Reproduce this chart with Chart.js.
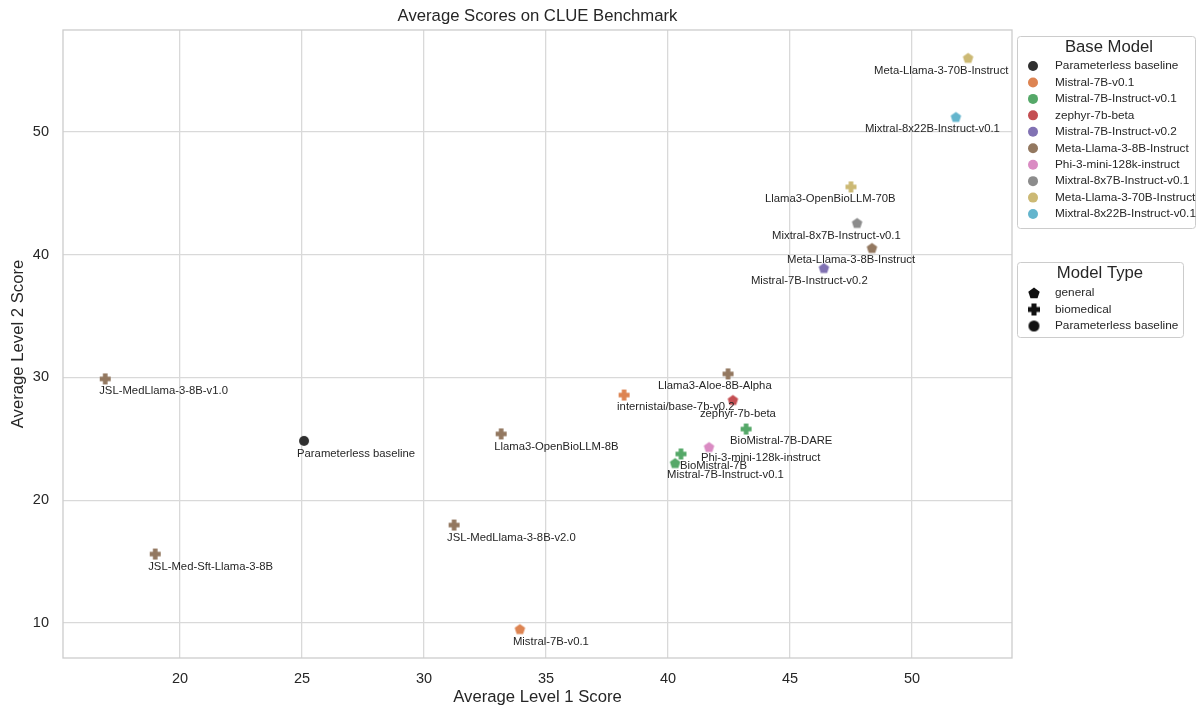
<!DOCTYPE html>
<html>
<head>
<meta charset="utf-8">
<script src="https://cdn.jsdelivr.net/npm/chart.js@4.4.1/dist/chart.umd.min.js"></script>
<style>
  html, body { margin: 0; padding: 0; background: #fff; }
  #wrap { width: 1200px; height: 709px; }
</style>
</head>
<body>
<div id="wrap"><canvas id="clue"></canvas></div>
<script>
'use strict';

// data
const modelNames = [
    'Parameterless baseline', 'Mistral-7B-v0.1', 'internistai/base-7b-v0.2', 'Mistral-7B-Instruct-v0.1',
    'BioMistral-7B', 'BioMistral-7B-DARE', 'zephyr-7b-beta', 'Mistral-7B-Instruct-v0.2',
    'Meta-Llama-3-8B-Instruct', 'Llama3-Aloe-8B-Alpha', 'Llama3-OpenBioLLM-8B', 'JSL-MedLlama-3-8B-v1.0',
    'JSL-MedLlama-3-8B-v2.0', 'JSL-Med-Sft-Llama-3-8B', 'Phi-3-mini-128k-instruct', 'Mixtral-8x7B-Instruct-v0.1',
    'Llama3-OpenBioLLM-70B', 'Meta-Llama-3-70B-Instruct', 'Mixtral-8x22B-Instruct-v0.1'
];
const level1Scores = [25.08, 33.93, 38.2, 40.29, 40.53, 43.2, 42.66, 46.39, 48.36, 42.46, 33.16, 16.93, 31.23, 18.98, 41.68, 47.75, 47.5, 52.3, 51.8];
const level2Scores = [24.83, 9.51, 28.57, 23.03, 23.77, 25.8, 28.17, 38.92, 40.55, 30.29, 25.4, 29.88, 17.98, 15.62, 24.34, 42.59, 45.52, 56.03, 51.22];
const baseModelOf = [
    'Parameterless baseline', 'Mistral-7B-v0.1', 'Mistral-7B-v0.1', 'Mistral-7B-Instruct-v0.1',
    'Mistral-7B-Instruct-v0.1', 'Mistral-7B-Instruct-v0.1', 'zephyr-7b-beta', 'Mistral-7B-Instruct-v0.2',
    'Meta-Llama-3-8B-Instruct', 'Meta-Llama-3-8B-Instruct', 'Meta-Llama-3-8B-Instruct', 'Meta-Llama-3-8B-Instruct',
    'Meta-Llama-3-8B-Instruct', 'Meta-Llama-3-8B-Instruct', 'Phi-3-mini-128k-instruct', 'Mixtral-8x7B-Instruct-v0.1',
    'Meta-Llama-3-70B-Instruct', 'Meta-Llama-3-70B-Instruct', 'Mixtral-8x22B-Instruct-v0.1'
];
const modelTypeOf = [
    'Parameterless baseline', 'general', 'biomedical', 'general',
    'biomedical', 'biomedical', 'general', 'general',
    'general', 'biomedical', 'biomedical', 'biomedical',
    'biomedical', 'biomedical', 'general', 'general',
    'biomedical', 'general', 'general'
];

const baseModels = [
    'Parameterless baseline', 'Mistral-7B-v0.1', 'Mistral-7B-Instruct-v0.1', 'zephyr-7b-beta',
    'Mistral-7B-Instruct-v0.2', 'Meta-Llama-3-8B-Instruct', 'Phi-3-mini-128k-instruct',
    'Mixtral-8x7B-Instruct-v0.1', 'Meta-Llama-3-70B-Instruct', 'Mixtral-8x22B-Instruct-v0.1'
];
const baseColors = ['#2f2f2f', '#dd8452', '#55a868', '#c44e52', '#8172b3', '#937860', '#da8bc3', '#8c8c8c', '#ccb974', '#64b5cd'];
const modelTypes = ['general', 'biomedical', 'Parameterless baseline'];

const xTicks = [20, 25, 30, 35, 40, 45, 50];
const yTicks = [10, 20, 30, 40, 50];

// label placement (px from the point: left edge of text, vertical middle), like the repelled labels
const labelNudge = [
    [-7, 13], [-7, 13], [-7, 12], [-8, 12], [-1, 12], [-16, 12], [-33, 14], [-73, 13],
    [-85, 12], [-70, 12], [-7, 13], [-6, 12], [-7, 13], [-7, 13], [-8, 11], [-85, 13],
    [-86, 12], [-94, 13], [-91, 12]
];

const FONT = '"Liberation Sans", Arial, sans-serif';
const TEXT = '#262626';

// marker images
function makeMarker(shape, color, r) {
    const size = Math.ceil(r * 2 + 2);
    const c = document.createElement('canvas');
    c.width = size; c.height = size;
    const g = c.getContext('2d');
    const cx = size / 2, cy = size / 2;
    g.fillStyle = color;
    g.beginPath();
    if (shape === 'general') {
        for (let i = 0; i < 5; i++) {
            const a = -Math.PI / 2 + i * 2 * Math.PI / 5;
            const px = cx + r * Math.cos(a), py = cy + 0.5 + r * Math.sin(a);
            if (i === 0) g.moveTo(px, py); else g.lineTo(px, py);
        }
        g.closePath();
    } else if (shape === 'biomedical') {
        const w = r * 0.42;
        g.rect(cx - r, cy - w, 2 * r, 2 * w);
        g.rect(cx - w, cy - r, 2 * w, 2 * r);
    } else {
        g.arc(cx, cy, r, 0, Math.PI * 2);
    }
    g.fill();
    return c;
}

const datasets = baseModels.map((bm, k) => {
    const idx = modelNames.map((_, i) => i).filter(i => baseModelOf[i] === bm);
    return {
        label: bm,
        data: idx.map(i => ({ x: level1Scores[i], y: level2Scores[i], name: modelNames[i], nudge: labelNudge[i] })),
        pointStyle: idx.map(i => makeMarker(modelTypeOf[i], baseColors[k], modelTypeOf[i] === 'Parameterless baseline' ? 5 : 5.5)),
        backgroundColor: baseColors[k],
        borderColor: baseColors[k],
        pointRadius: 6
    };
});

const frameAndLabels = {
    id: 'frameAndLabels',
    beforeDraw(chart) {
        const g = chart.ctx;
        g.save();
        g.fillStyle = '#fff';
        g.fillRect(0, 0, chart.width, chart.height);
        g.restore();
    },
    afterDatasetsDraw(chart) {
        const g = chart.ctx;
        const a = chart.chartArea;
        g.save();
        g.strokeStyle = '#cccccc';
        g.lineWidth = 1.3;
        g.strokeRect(a.left, a.top, a.right - a.left, a.bottom - a.top);
        // point labels
        g.font = '11.3px ' + FONT;
        g.fillStyle = TEXT;
        g.textAlign = 'left';
        g.textBaseline = 'middle';
        chart.data.datasets.forEach((ds, di) => {
            chart.getDatasetMeta(di).data.forEach((pt, j) => {
                const n = ds.data[j].nudge;
                g.fillText(ds.data[j].name, pt.x + n[0], pt.y + n[1]);
            });
        });
        // title
        g.textAlign = 'center';
        g.font = '16.7px ' + FONT;
        g.fillText('Average Scores on CLUE Benchmark', (a.left + a.right) / 2, 16);
        g.restore();
    },
    afterDraw(chart) {
        const g = chart.ctx;
        g.save();
        const box = (x, y, w, h) => {
            g.fillStyle = 'rgba(255,255,255,0.8)';
            g.strokeStyle = '#cccccc';
            g.lineWidth = 1;
            g.beginPath();
            g.roundRect(x + 0.5, y + 0.5, w, h, 3);
            g.fill();
            g.stroke();
        };
        // Base Model legend
        box(1017, 36, 178, 192);
        g.fillStyle = TEXT;
        g.textAlign = 'center';
        g.textBaseline = 'middle';
        g.font = '16.7px ' + FONT;
        g.fillText('Base Model', 1109, 47);
        g.textAlign = 'left';
        g.font = '11.8px ' + FONT;
        baseModels.forEach((bm, k) => {
            const y = 66 + k * 16.45;
            g.fillStyle = baseColors[k];
            g.beginPath();
            g.arc(1033, y, 5, 0, Math.PI * 2);
            g.fill();
            g.fillStyle = TEXT;
            g.fillText(bm, 1055, y);
        });
        // Model Type legend
        box(1017, 262, 166, 75);
        g.fillStyle = TEXT;
        g.textAlign = 'center';
        g.font = '16.7px ' + FONT;
        g.fillText('Model Type', 1100, 273);
        g.textAlign = 'left';
        g.font = '11.8px ' + FONT;
        modelTypes.forEach((t, k) => {
            const y = 293 + k * 16.5;
            const m = makeMarker(t, '#111111', t === 'Parameterless baseline' ? 5.5 : 6);
            g.drawImage(m, 1034 - m.width / 2, y - m.height / 2);
            g.fillStyle = TEXT;
            g.fillText(t, 1055, y);
        });
        g.restore();
    }
};

new Chart(document.getElementById('clue'), {
    type: 'scatter',
    data: { datasets },
    plugins: [frameAndLabels],
    options: {
        responsive: true,
        maintainAspectRatio: false,
        animation: false,
        layout: { padding: { left: 0, right: 188, top: 30, bottom: 0 } },
        scales: {
            x: {
                type: 'linear',
                min: 15.2,
                max: 54.1,
                afterBuildTicks(scale) { scale.ticks = xTicks.map(v => ({ value: v })); },
                afterFit(scale) { scale.height = 51; },
                grid: { color: '#d9d9d9', lineWidth: 1.3, drawTicks: false },
                border: { display: false },
                ticks: { color: TEXT, font: { family: FONT, size: 14.5 }, padding: 12 },
                title: { display: true, text: 'Average Level 1 Score', color: TEXT, font: { family: FONT, size: 16.7 }, padding: { top: 0, bottom: 2 } }
            },
            y: {
                type: 'linear',
                min: 7.15,
                max: 58.3,
                afterBuildTicks(scale) { scale.ticks = yTicks.map(v => ({ value: v })); },
                afterFit(scale) { scale.width = 63; },
                grid: { color: '#d9d9d9', lineWidth: 1.3, drawTicks: false },
                border: { display: false },
                ticks: { color: TEXT, font: { family: FONT, size: 14.5 }, padding: 14 },
                title: { display: true, text: 'Average Level 2 Score', color: TEXT, font: { family: FONT, size: 16.7 }, padding: { top: 8, bottom: 0 } }
            }
        },
        plugins: {
            legend: { display: false },
            tooltip: { enabled: false }
        }
    }
});
</script>
</body>
</html>
